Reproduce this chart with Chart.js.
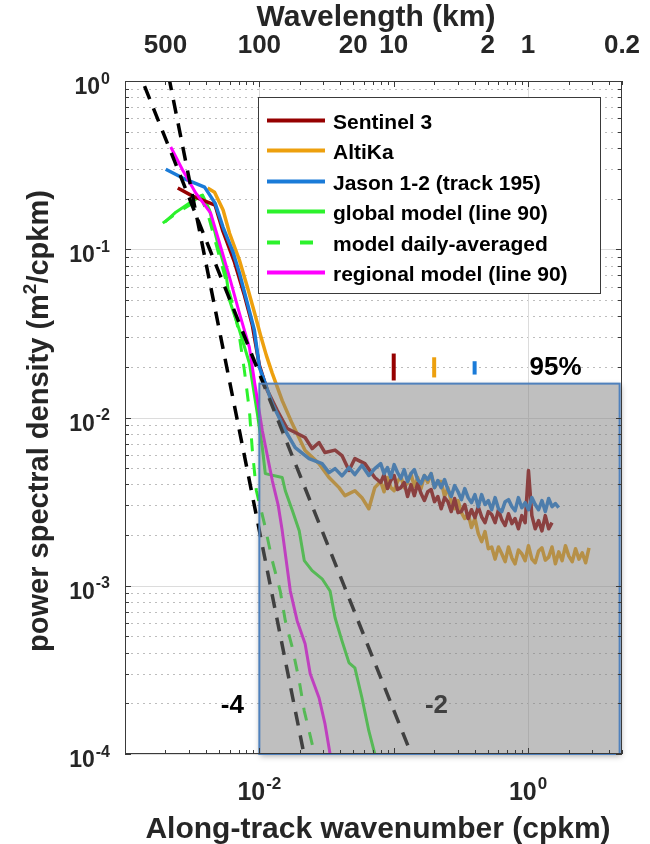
<!DOCTYPE html>
<html>
<head>
<meta charset="utf-8">
<title>Along-track wavenumber spectra</title>
<script src="https://cdn.jsdelivr.net/npm/chart.js"></script>
<style>
  html, body { margin: 0; padding: 0; background: #ffffff; }
  canvas { display: block; }
</style>
</head>
<body>
<canvas id="spectra" width="650" height="844"></canvas>
<script>
// values: [wavenumber (cpkm), PSD (m2/cpkm)]
const sentinel3 = [
  [0.00247,0.231],[0.00319,0.207],[0.00468,0.183],[0.00532,0.13],[0.00653,0.0837],[0.00774,0.0532],
  [0.00887,0.0353],[0.0100,0.0204],[0.01146,0.0145],[0.0136,0.011],[0.0161,0.0086],[0.0185,0.00814],
  [0.0219,0.0076],[0.0247,0.00653],[0.0278,0.0071],[0.0308,0.00619],[0.0366,0.0064],[0.0412,0.00594],
  [0.0465,0.00484],[0.0514,0.0057],[0.061,0.00532],[0.0723,0.0044],
  [0.08,0.00411],[0.0847,0.00458],[0.0898,0.00378],[0.0951,0.00422],[0.1007,0.00452],[0.1067,0.00373],
  [0.113,0.00383],[0.1197,0.00411],[0.1268,0.00339],[0.1343,0.00399],[0.1423,0.00343],[0.1507,0.00405],
  [0.1597,0.00353],[0.1691,0.00321],[0.1792,0.00362],[0.1898,0.00373],[0.2011,0.00316],[0.213,0.00339],
  [0.2256,0.00287],[0.239,0.00334],[0.253,0.00316],[0.268,0.00276],[0.284,0.0033],[0.301,0.00272],
  [0.319,0.00276],[0.338,0.00304],[0.358,0.00251],[0.379,0.00283],[0.402,0.00254],[0.426,0.00295],
  [0.451,0.00257],[0.478,0.00237],[0.506,0.00276],[0.536,0.00265],[0.568,0.00237],[0.602,0.00283],
  [0.637,0.00247],[0.675,0.00228],[0.715,0.00268],[0.758,0.00234],[0.8,0.00251],[0.847,0.00218],
  [0.898,0.00261],[0.951,0.00237],[1.007,0.00484],[1.067,0.00261],[1.13,0.00218],[1.197,0.00244],
  [1.268,0.00212],[1.343,0.00261],[1.423,0.00218],[1.507,0.00237]
];
const altika = [
  [0.00412,0.231],[0.00464,0.218],[0.00537,0.171],[0.006,0.1245],[0.00711,0.086],[0.00815,0.0594],
  [0.00918,0.0422],[0.0102,0.0308],[0.01127,0.0234],[0.01248,0.0183],[0.0148,0.0126],[0.01756,0.0092],
  [0.0219,0.00636],[0.0278,0.00532],[0.033,0.0044],[0.0392,0.00383],[0.0434,0.00343],[0.0514,0.00367],
  [0.058,0.00334],[0.0653,0.00287],[0.0723,0.00383],
  [0.08,0.00416],[0.0847,0.00362],[0.0898,0.0044],[0.0951,0.00383],[0.1007,0.00367],[0.1067,0.00416],
  [0.113,0.00446],[0.1197,0.00383],[0.1268,0.00411],[0.1343,0.00464],[0.1423,0.00388],[0.1507,0.0044],
  [0.1597,0.00378],[0.1691,0.00452],[0.1792,0.00411],[0.1898,0.00464],[0.2011,0.00383],[0.213,0.00416],
  [0.2256,0.00416],[0.239,0.00339],[0.253,0.00383],[0.268,0.00316],[0.284,0.00287],[0.301,0.00321],
  [0.319,0.00272],[0.338,0.00251],[0.358,0.00268],[0.379,0.00222],[0.402,0.00251],[0.426,0.00204],
  [0.451,0.00183],[0.478,0.0021],[0.506,0.00166],[0.536,0.0017],[0.568,0.00144],[0.602,0.0017],
  [0.637,0.00155],[0.675,0.00139],[0.715,0.0017],[0.758,0.00146],[0.8,0.00135],[0.847,0.00163],
  [0.898,0.00155],[0.951,0.00141],[1.007,0.00173],[1.067,0.00144],[1.13,0.00137],[1.197,0.00161],
  [1.268,0.00168],[1.343,0.00142],[1.423,0.00148],[1.507,0.0017],[1.597,0.00135],[1.691,0.00159],
  [1.792,0.00141],[1.898,0.00173],[2.011,0.0015],[2.13,0.00139],[2.256,0.00166],[2.39,0.00144],
  [2.53,0.00157],[2.68,0.00137],[2.84,0.00168]
];
const jason = [
  [0.00201,0.299],[0.00269,0.265],[0.00391,0.234],[0.00468,0.188],[0.00537,0.135],[0.00637,0.096],
  [0.00711,0.072],[0.00815,0.0477],[0.00918,0.033],[0.0100,0.0199],[0.01107,0.0159],[0.01248,0.0121],
  [0.01559,0.00837],[0.01849,0.00663],[0.02345,0.0057],[0.0293,0.00532],[0.033,0.0047],[0.0366,0.00497],
  [0.0412,0.0045],[0.0465,0.00504],[0.0514,0.00458],[0.058,0.0052],[0.0653,0.00452],[0.0723,0.00497],
  [0.08,0.00532],[0.0847,0.00464],[0.0898,0.00504],[0.0951,0.0044],[0.1007,0.00525],[0.1067,0.00471],
  [0.113,0.00434],[0.1197,0.0049],[0.1268,0.00416],[0.1343,0.00464],[0.1423,0.0049],[0.1507,0.00428],
  [0.1597,0.00405],[0.1691,0.00452],[0.1792,0.00428],[0.1898,0.00464],[0.2011,0.00383],[0.213,0.00422],
  [0.2256,0.00383],[0.239,0.00428],[0.253,0.00373],[0.268,0.00339],[0.284,0.00394],[0.301,0.00362],
  [0.319,0.00325],[0.338,0.00378],[0.358,0.00334],[0.379,0.00312],[0.402,0.00348],[0.426,0.00295],
  [0.451,0.00348],[0.478,0.00304],[0.506,0.00321],[0.536,0.00283],[0.568,0.00334],[0.602,0.00287],
  [0.637,0.00276],[0.675,0.00316],[0.715,0.00325],[0.758,0.00295],[0.8,0.00279],[0.847,0.00334],
  [0.898,0.00291],[0.951,0.00312],[1.007,0.00283],[1.067,0.00334],[1.13,0.00304],[1.197,0.00283],
  [1.268,0.00321],[1.343,0.00276],[1.423,0.0033],[1.507,0.00295],[1.597,0.00308],[1.691,0.00291]
];
const globalModel = [
  [0.00198,0.145],[0.00239,0.166],[0.00308,0.19],[0.00378,0.21],[0.00426,0.171],[0.00489,0.1086],
  [0.0056,0.075],[0.006,0.0497],[0.00711,0.033],[0.00843,0.021],[0.00966,0.01056],[0.01052,0.00663],
  [0.01107,0.00464],[0.0148,0.0044],[0.0156,0.00367],[0.0176,0.0028],[0.0198,0.00212],[0.0216,0.00141],
  [0.0247,0.00123],[0.0293,0.0011],[0.0336,0.00093],[0.0366,0.000645],[0.0412,0.00047],[0.0465,0.000348],
  [0.0514,0.000325],[0.058,0.000216],[0.0653,0.000137],[0.0723,0.0001],[0.076,0.00009]
];
const dailyModel = [
  [0.00191,0.143],[0.00247,0.166],[0.00319,0.188],[0.0036,0.216],[0.00426,0.149],[0.00506,0.0896],
  [0.0063,0.0477],[0.00699,0.033],[0.00774,0.019],[0.00843,0.011],[0.00887,0.00636],[0.0095,0.00367],
  [0.0109,0.00234],[0.01248,0.00141],[0.0143,0.00093],[0.0156,0.00062],[0.0176,0.000428],[0.0198,0.000272],
  [0.0216,0.00018],[0.0247,0.000115],[0.0264,0.0000908]
];
const regionalModel = [
  [0.00219,0.405],[0.00269,0.295],[0.00336,0.216],[0.00434,0.164],[0.00506,0.1086],[0.006,0.068],
  [0.00711,0.0416],[0.00843,0.0261],[0.00934,0.0151],[0.01052,0.00837],[0.01248,0.00422],[0.01383,0.00299],
  [0.0148,0.00212],[0.017,0.00093],[0.0191,0.00062],[0.0219,0.000452],[0.0239,0.0003],[0.0278,0.000216],
  [0.0308,0.000151],[0.0336,0.0001],[0.0342,0.000092]
];
// reference slopes k^-4 and k^-2
const slopeMinus4 = [[0.0018, 2.03], [0.025, 5.44e-5]];
const slopeMinus2 = [[0.0012, 1.266], [0.16, 7.12e-5]];
// 95% confidence bars
const ciSentinel = [[0.1, 0.0166], [0.1, 0.024]];
const ciAltika = [[0.2, 0.0173], [0.2, 0.0228]];
const ciJason = [[0.4, 0.018], [0.4, 0.0216]];
// shaded altimeter-noise region
const boxK = [0.01, 4.8];
const boxPsd = [1e-4, 0.0159];
// axis ticks
const yTickValues = [1, 0.1, 0.01, 0.001, 0.0001];
const yTickExps = ['0', '-1', '-2', '-3', '-4'];
const xTickValues = [0.01, 1];
const xTickExps = ['-2', '0'];
const wavelengthTicks = [500, 100, 20, 10, 2, 1, 0.2];

const FONT = '"Liberation Sans", Arial, Helvetica, sans-serif';
const INK = '#262626';

function toPoints(pairs) {
  return pairs.map(([k, p]) => ({ x: k, y: p }));
}

function drawPow(ctx, x, y, exp, baseSize, expSize, align) {
  ctx.font = `bold ${baseSize}px ${FONT}`;
  const wb = ctx.measureText('10').width;
  ctx.font = `bold ${expSize}px ${FONT}`;
  const we = ctx.measureText(exp).width;
  const total = wb + we + 1;
  const x0 = align === 'right' ? x - total : x - total / 2;
  ctx.textAlign = 'left';
  ctx.textBaseline = 'alphabetic';
  ctx.font = `bold ${baseSize}px ${FONT}`;
  ctx.fillText('10', x0, y);
  ctx.font = `bold ${expSize}px ${FONT}`;
  ctx.fillText(exp, x0 + wb + 1, y - baseSize * 0.45);
}

const frame = {
  id: 'frame',
  beforeDatasetsDraw(chart) {
    const { ctx, chartArea: a, scales: { x, y } } = chart;
    ctx.save();
    ctx.lineWidth = 1;
    // dotted minor grid
    ctx.strokeStyle = '#bdbdbd';
    ctx.setLineDash([2, 4]);
    for (let e = -4; e < 0; e++) {
      for (let m = 2; m <= 9; m++) {
        const py = Math.round(y.getPixelForValue(m * Math.pow(10, e))) + 0.5;
        ctx.beginPath(); ctx.moveTo(a.left, py); ctx.lineTo(a.right, py); ctx.stroke();
      }
    }
    ctx.setLineDash([]);
    ctx.strokeStyle = '#dcdcdc';
    yTickValues.forEach(v => {
      const py = Math.round(y.getPixelForValue(v)) + 0.5;
      ctx.beginPath(); ctx.moveTo(a.left, py); ctx.lineTo(a.right, py); ctx.stroke();
    });
    xTickValues.forEach(v => {
      const px = Math.round(x.getPixelForValue(v)) + 0.5;
      ctx.beginPath(); ctx.moveTo(px, a.top); ctx.lineTo(px, a.bottom); ctx.stroke();
    });
    ctx.restore();
  },
  afterDatasetsDraw(chart) {
    const { ctx, scales: { x, y } } = chart;
    ctx.save();
    // "-2" label sits under the shaded box
    ctx.fillStyle = '#000';
    ctx.font = `bold 26px ${FONT}`;
    ctx.textAlign = 'center';
    ctx.textBaseline = 'middle';
    ctx.fillText('-2', x.getPixelForValue(0.208), y.getPixelForValue(1.93e-4));

    const bx0 = x.getPixelForValue(boxK[0]), bx1 = x.getPixelForValue(boxK[1]);
    const by0 = y.getPixelForValue(boxPsd[1]), by1 = y.getPixelForValue(boxPsd[0]);
    // drop shadow outside the box only
    ctx.save();
    ctx.beginPath();
    ctx.rect(0, 0, chart.width, chart.height);
    ctx.rect(bx0, by0, bx1 - bx0, by1 - by0);
    ctx.clip('evenodd');
    ctx.shadowColor = 'rgba(0,0,0,0.35)';
    ctx.shadowBlur = 6;
    ctx.shadowOffsetX = 1;
    ctx.shadowOffsetY = 2;
    ctx.fillStyle = '#808080';
    ctx.fillRect(bx0, by0, bx1 - bx0, by1 - by0);
    ctx.restore();
    ctx.fillStyle = 'rgba(128,128,128,0.5)';
    ctx.fillRect(bx0, by0, bx1 - bx0, by1 - by0);
    ctx.strokeStyle = '#4f81bd';
    ctx.lineWidth = 2;
    ctx.strokeRect(bx0, by0, bx1 - bx0, by1 - by0);
    ctx.restore();
  },
  afterDraw(chart) {
    const { ctx, chartArea: a, scales: { x, y } } = chart;
    ctx.save();
    // axes box
    ctx.strokeStyle = '#3a3a3a';
    ctx.lineWidth = 1;
    ctx.strokeRect(a.left + 0.5, a.top + 0.5, a.right - a.left - 1, a.bottom - a.top - 1);
    // inward tick marks
    ctx.beginPath();
    for (let e = -4; e < 0; e++) {
      for (let m = 1; m <= 9; m++) {
        const py = Math.round(y.getPixelForValue(m * Math.pow(10, e))) + 0.5;
        const len = m === 1 ? 6 : 4;
        ctx.moveTo(a.left, py); ctx.lineTo(a.left + len, py);
        ctx.moveTo(a.right, py); ctx.lineTo(a.right - len, py);
      }
    }
    for (let e = -3; e <= 0; e++) {
      for (let m = 1; m <= 9; m++) {
        const v = m * Math.pow(10, e);
        if (v > x.max) continue;
        const px = Math.round(x.getPixelForValue(v)) + 0.5;
        const len = m === 1 ? 6 : 4;
        ctx.moveTo(px, a.top); ctx.lineTo(px, a.top + len);
        ctx.moveTo(px, a.bottom); ctx.lineTo(px, a.bottom - len);
      }
    }
    ctx.stroke();

    ctx.fillStyle = INK;
    // y tick labels
    yTickValues.forEach((v, i) => {
      drawPow(ctx, 110, y.getPixelForValue(v) + 13, yTickExps[i], 23, 16, 'right');
    });
    // bottom tick labels
    xTickValues.forEach((v, i) => {
      drawPow(ctx, x.getPixelForValue(v), 800, xTickExps[i], 25, 17, 'center');
    });
    // top wavelength labels
    ctx.font = `bold 26px ${FONT}`;
    ctx.textAlign = 'center';
    ctx.textBaseline = 'alphabetic';
    wavelengthTicks.forEach(w => {
      ctx.fillText(String(w), x.getPixelForValue(1 / w), 53);
    });
    // axis titles
    ctx.font = `bold 30px ${FONT}`;
    ctx.fillText('Wavelength (km)', 376, 26);
    ctx.fillText('Along-track wavenumber (cpkm)', 378, 838);

    ctx.save();
    ctx.translate(48, 421);
    ctx.rotate(-Math.PI / 2);
    const p1 = 'power spectral density (m', sup = '2', p2 = '/cpkm)';
    ctx.font = `bold 29px ${FONT}`;
    const w1 = ctx.measureText(p1).width, w3 = ctx.measureText(p2).width;
    ctx.font = `bold 19px ${FONT}`;
    const w2 = ctx.measureText(sup).width;
    let cx = -(w1 + w2 + w3) / 2;
    ctx.textAlign = 'left';
    ctx.font = `bold 29px ${FONT}`;
    ctx.fillText(p1, cx, 0); cx += w1;
    ctx.font = `bold 19px ${FONT}`;
    ctx.fillText(sup, cx, -12); cx += w2;
    ctx.font = `bold 29px ${FONT}`;
    ctx.fillText(p2, cx, 0);
    ctx.restore();

    // slope and confidence annotations
    ctx.fillStyle = '#000';
    ctx.font = `bold 26px ${FONT}`;
    ctx.textAlign = 'center';
    ctx.textBaseline = 'middle';
    ctx.fillText('-4', x.getPixelForValue(0.0063), y.getPixelForValue(1.93e-4));
    ctx.fillText('95%', x.getPixelForValue(1.6), y.getPixelForValue(0.0196));

    // legend
    const lx = 258, ly = 97, lw = 342, lh = 196;
    ctx.fillStyle = '#fff';
    ctx.fillRect(lx, ly, lw, lh);
    ctx.strokeStyle = '#3a3a3a';
    ctx.lineWidth = 1;
    ctx.strokeRect(lx + 0.5, ly + 0.5, lw, lh);
    const items = chart.data.datasets.filter(d => !d.label.startsWith('_'));
    ctx.font = `bold 21px ${FONT}`;
    ctx.textAlign = 'left';
    ctx.textBaseline = 'alphabetic';
    items.forEach((d, i) => {
      const ry = Math.round(ly + 23 + i * 30.4) + 0.5;
      ctx.strokeStyle = d.borderColor;
      ctx.lineWidth = 4;
      ctx.setLineDash(d.borderDash ? [13, 20] : []);
      ctx.beginPath(); ctx.moveTo(lx + 9, ry); ctx.lineTo(lx + 67, ry); ctx.stroke();
      ctx.setLineDash([]);
      ctx.fillStyle = '#000';
      ctx.fillText(d.label, lx + 75, ry + 8);
    });
    ctx.restore();
  }
};

const lineBase = { pointRadius: 0, borderWidth: 3, fill: false, tension: 0, clip: 0, borderJoinStyle: 'round' };

new Chart(document.getElementById('spectra'), {
  type: 'line',
  data: {
    datasets: [
      { ...lineBase, label: 'Sentinel 3', data: toPoints(sentinel3), borderColor: '#960000', borderWidth: 3.5, order: 4 },
      { ...lineBase, label: 'AltiKa', data: toPoints(altika), borderColor: '#eda00e', borderWidth: 3.5, order: 5 },
      { ...lineBase, label: 'Jason 1-2 (track 195)', data: toPoints(jason), borderColor: '#1a7bd8', borderWidth: 3.5, order: 3 },
      { ...lineBase, label: 'global model (line 90)', data: toPoints(globalModel), borderColor: '#2cf22c', order: 6 },
      { ...lineBase, label: 'model daily-averaged', data: toPoints(dailyModel), borderColor: '#2cf22c', borderDash: [13, 12], order: 6 },
      { ...lineBase, label: 'regional model (line 90)', data: toPoints(regionalModel), borderColor: '#ff00ff', order: 2 },
      { ...lineBase, label: '_slope4', data: toPoints(slopeMinus4), borderColor: '#000', borderWidth: 3.5, borderDash: [14, 10], order: 1 },
      { ...lineBase, label: '_slope2', data: toPoints(slopeMinus2), borderColor: '#000', borderWidth: 3.5, borderDash: [14, 10], order: 1 },
      { ...lineBase, label: '_ciSentinel', data: toPoints(ciSentinel), borderColor: '#960000', borderWidth: 4, borderCapStyle: 'butt', order: 0 },
      { ...lineBase, label: '_ciAltika', data: toPoints(ciAltika), borderColor: '#eda00e', borderWidth: 4, borderCapStyle: 'butt', order: 0 },
      { ...lineBase, label: '_ciJason', data: toPoints(ciJason), borderColor: '#1a7bd8', borderWidth: 4, borderCapStyle: 'butt', order: 0 }
    ]
  },
  options: {
    responsive: false,
    animation: false,
    layout: { padding: { left: 125, right: 28, top: 81, bottom: 90 } },
    plugins: { legend: { display: false }, tooltip: { enabled: false } },
    scales: {
      x: { type: 'logarithmic', min: 0.001, max: 5, display: false },
      y: { type: 'logarithmic', min: 1e-4, max: 1, display: false }
    }
  },
  plugins: [frame]
});
</script>
</body>
</html>
